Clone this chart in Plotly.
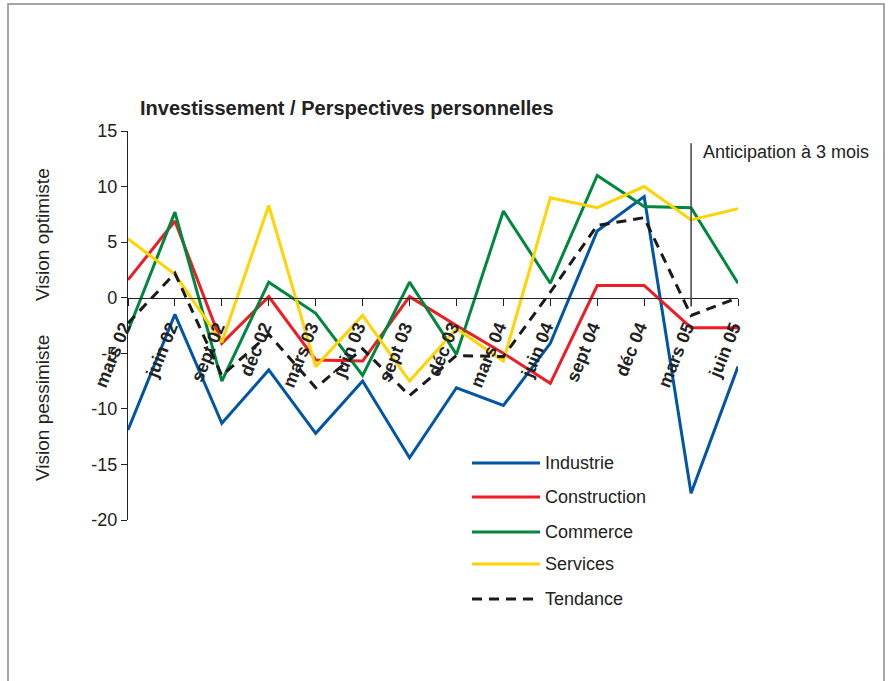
import plotly.graph_objects as go

# Data
periods = ["mars 02", "juin 02", "sept 02", "déc 02", "mars 03", "juin 03", "sept 03",
           "déc 03", "mars 04", "juin 04", "sept 04", "déc 04", "mars 05", "juin 05"]

industrie = [-11.9, -1.5, -11.3, -6.5, -12.2, -7.5, -14.4, -8.1, -9.7, -4.1, 6.0, 9.1, -17.6, -6.2]
construction = [1.6, 6.9, -4.1, 0.1, -5.6, -5.7, 0.1, -2.5, -5.0, -7.7, 1.1, 1.1, -2.7, -2.7]
commerce = [-3.0, 7.7, -7.5, 1.4, -1.4, -7.0, 1.4, -5.1, 7.8, 1.3, 11.0, 8.2, 8.1, 1.3]
services = [5.3, 2.1, -4.0, 8.3, -6.2, -1.6, -7.5, -2.8, -5.7, 9.0, 8.1, 10.0, 7.0, 8.0]
tendance = [-2.3, 2.2, -7.0, -3.3, -8.1, -4.6, -8.8, -5.2, -5.3, 0.5, 6.5, 7.2, -1.6, 0.0]

series_names = ["Industrie", "Construction", "Commerce", "Services", "Tendance"]
series_values = [industrie, construction, commerce, services, tendance]
series_colors = ["#0055A5", "#EE1C25", "#00873E", "#FFD400", "#1A1A1A"]
series_dash = ["solid", "solid", "solid", "solid", "10px,7px"]

y_ticks = [15, 10, 5, 0, -5, -10, -15, -20]

FONT = "Liberation Sans, Arial, sans-serif"
TXT = "#222222"

# plot area in pixels
L, R, T, B = 128, 738, 131, 520


def px_x(p):
    return (p - L) / (R - L)


def px_y(p):
    return (B - p) / (B - T)


fig = go.Figure()

for name, vals, color, dash in zip(series_names, series_values, series_colors, series_dash):
    fig.add_trace(
        go.Scatter(
            x=periods,
            y=vals,
            mode="lines",
            name=name,
            line=dict(color=color, width=3, dash=dash),
            showlegend=False,
        )
    )

# anticipation marker
fig.add_shape(
    type="line",
    xref="x", yref="y",
    x0=periods[12], x1=periods[12],
    y0=-0.8, y1=13.9,
    line=dict(color="#444444", width=1.5),
)
fig.add_annotation(
    x=px_x(701), y=px_y(152), xref="paper", yref="paper",
    text="Anticipation à 3 mois", showarrow=False,
    xanchor="left", yanchor="middle",
    font=dict(size=18, color=TXT, family=FONT),
)

# y axis titles
fig.add_annotation(
    x=px_x(42), y=px_y(235), xref="paper", yref="paper",
    text="Vision optimiste", textangle=-90, showarrow=False,
    xanchor="center", yanchor="middle",
    font=dict(size=19, color=TXT, family=FONT),
)
fig.add_annotation(
    x=px_x(42), y=px_y(408), xref="paper", yref="paper",
    text="Vision pessimiste", textangle=-90, showarrow=False,
    xanchor="center", yanchor="middle",
    font=dict(size=19, color=TXT, family=FONT),
)

# legend drawn by hand (long line samples)
legend_rows = [463, 497, 532, 564, 599]
for name, color, dash, row in zip(series_names, series_colors, series_dash, legend_rows):
    fig.add_shape(
        type="line", xref="paper", yref="paper",
        x0=px_x(472), x1=px_x(540), y0=px_y(row), y1=px_y(row),
        line=dict(color=color, width=3, dash=dash),
    )
    fig.add_annotation(
        x=px_x(543), y=px_y(row), xref="paper", yref="paper",
        text=name, showarrow=False, xanchor="left", yanchor="middle",
        font=dict(size=18, color=TXT, family=FONT),
    )

# outer frame
fig.add_shape(
    type="rect", xref="paper", yref="paper",
    x0=px_x(8), x1=px_x(884), y0=px_y(4), y1=px_y(700),
    line=dict(color="#8A8A8A", width=1.5),
)

fig.update_layout(
    width=888,
    height=681,
    autosize=False,
    paper_bgcolor="white",
    plot_bgcolor="white",
    margin=dict(l=L, r=888 - R, t=T, b=681 - B),
    font=dict(family=FONT, size=18, color=TXT),
    title=dict(
        text="<b>Investissement / Perspectives personnelles</b>",
        x=140 / 888, xanchor="left", xref="container",
        y=1 - 108 / 681, yanchor="middle", yref="container",
        font=dict(size=20, color=TXT, family=FONT),
    ),
    showlegend=False,
)

fig.update_xaxes(
    type="category",
    categoryorder="array",
    categoryarray=periods,
    range=[0, len(periods) - 1],
    anchor="free",
    position=20 / 35,
    showline=True,
    linecolor=TXT,
    linewidth=1.2,
    ticks="outside",
    ticklen=7,
    tickcolor=TXT,
    tickangle=-68,
    ticklabelshift=-5,
    ticklabelstandoff=4,
    tickfont=dict(size=18, color=TXT, family=FONT, weight="bold"),
    showgrid=False,
    zeroline=False,
)

fig.update_yaxes(
    range=[-20, 15],
    tickvals=y_ticks,
    ticktext=[str(v) for v in y_ticks],
    showline=True,
    linecolor=TXT,
    linewidth=1.2,
    ticks="outside",
    ticklen=6,
    tickcolor=TXT,
    tickfont=dict(size=18, color=TXT, family=FONT),
    showgrid=False,
    zeroline=False,
)

fig.write_html(
    "out.html",
    config={"displayModeBar": False},
    post_script="document.body.style.margin='0';",
)
